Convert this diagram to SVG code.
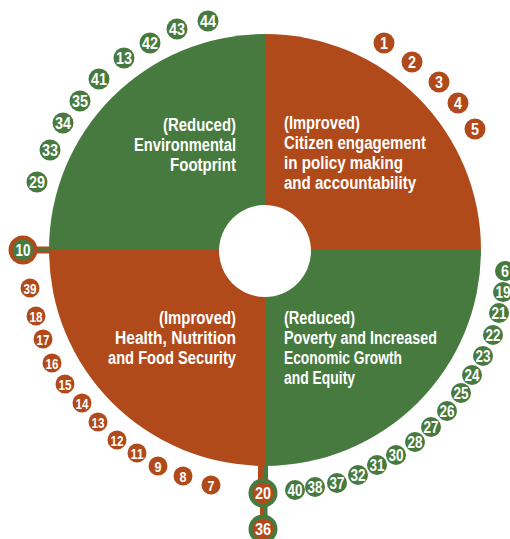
<svg xmlns="http://www.w3.org/2000/svg" width="510" height="539" viewBox="0 0 510 539">
<style>
.g{fill:#477a3e}
.o{fill:#b14a1b}
.lbl{font-family:"Liberation Sans",Arial,sans-serif;font-weight:bold;font-size:18px;fill:#fff}
.e{text-anchor:end}
.n{font-family:"Liberation Sans",Arial,sans-serif;font-weight:bold;font-size:17px;fill:#fff;text-anchor:middle}
.ns{font-size:15px}
</style>
<g id="connectors">
<line x1="36" y1="250" x2="55" y2="250" stroke="#b14a1b" stroke-width="7"/>
<line x1="36" y1="250" x2="55" y2="250" stroke="#477a3e" stroke-width="3"/>
<rect x="258" y="455" width="5" height="30" class="o"/>
<rect x="263" y="455" width="5" height="30" class="g"/>
<rect x="260" y="500" width="4" height="20" class="o"/>
<rect x="264" y="500" width="3.5" height="20" class="g"/>
</g>
<g id="q-env">
<path class="g" d="M265,250 L49,250 A216,216 0 0 1 265,34 Z"/>
<text class="lbl e" x="236" y="131" textLength="73" lengthAdjust="spacingAndGlyphs">(Reduced)</text>
<text class="lbl e" x="236" y="151" textLength="102" lengthAdjust="spacingAndGlyphs">Environmental</text>
<text class="lbl e" x="236" y="171" textLength="66" lengthAdjust="spacingAndGlyphs">Footprint</text>
</g>
<g id="q-citizen">
<path class="o" d="M265,250 L265,34 A216,216 0 0 1 481,250 Z"/>
<text class="lbl" x="284" y="129" textLength="76" lengthAdjust="spacingAndGlyphs">(Improved)</text>
<text class="lbl" x="284" y="149" textLength="142" lengthAdjust="spacingAndGlyphs">Citizen engagement</text>
<text class="lbl" x="284" y="169" textLength="119" lengthAdjust="spacingAndGlyphs">in policy making</text>
<text class="lbl" x="284" y="189" textLength="132" lengthAdjust="spacingAndGlyphs">and accountability</text>
</g>
<g id="q-poverty">
<path class="g" d="M265,250 L481,250 A216,216 0 0 1 265,466 Z"/>
<text class="lbl" x="284" y="324" textLength="71" lengthAdjust="spacingAndGlyphs">(Reduced)</text>
<text class="lbl" x="284" y="344" textLength="153" lengthAdjust="spacingAndGlyphs">Poverty and Increased</text>
<text class="lbl" x="284" y="364" textLength="118" lengthAdjust="spacingAndGlyphs">Economic Growth</text>
<text class="lbl" x="284" y="384" textLength="71" lengthAdjust="spacingAndGlyphs">and Equity</text>
</g>
<g id="q-health">
<path class="o" d="M265,250 L265,466 A216,216 0 0 1 49,250 Z"/>
<text class="lbl e" x="236" y="324" textLength="77" lengthAdjust="spacingAndGlyphs">(Improved)</text>
<text class="lbl e" x="236" y="344" textLength="121" lengthAdjust="spacingAndGlyphs">Health, Nutrition</text>
<text class="lbl e" x="236" y="364" textLength="128" lengthAdjust="spacingAndGlyphs">and Food Security</text>
</g>
<g id="hub"><circle cx="265" cy="251" r="46" fill="#fff"/></g>
<g id="badges-green-tl">
<circle class="g" cx="208" cy="21" r="10.5"/><text class="n" x="208" y="27" textLength="16" lengthAdjust="spacingAndGlyphs">44</text>
<circle class="g" cx="177" cy="29" r="10.5"/><text class="n" x="177" y="35" textLength="16" lengthAdjust="spacingAndGlyphs">43</text>
<circle class="g" cx="150" cy="43" r="10.5"/><text class="n" x="150" y="49" textLength="16" lengthAdjust="spacingAndGlyphs">42</text>
<circle class="g" cx="124" cy="58" r="10.5"/><text class="n" x="124" y="64" textLength="16" lengthAdjust="spacingAndGlyphs">13</text>
<circle class="g" cx="99" cy="79" r="10.5"/><text class="n" x="99" y="85" textLength="16" lengthAdjust="spacingAndGlyphs">41</text>
<circle class="g" cx="80" cy="101" r="10.5"/><text class="n" x="80" y="107" textLength="16" lengthAdjust="spacingAndGlyphs">35</text>
<circle class="g" cx="63" cy="123" r="10.5"/><text class="n" x="63" y="129" textLength="16" lengthAdjust="spacingAndGlyphs">34</text>
<circle class="g" cx="50" cy="150" r="10.5"/><text class="n" x="50" y="156" textLength="16" lengthAdjust="spacingAndGlyphs">33</text>
<circle class="g" cx="37" cy="182" r="10.5"/><text class="n" x="37" y="188" textLength="16" lengthAdjust="spacingAndGlyphs">29</text>
</g>
<g id="badges-orange-tr">
<circle class="o" cx="384" cy="43" r="10.5"/><text class="n" x="384" y="49" textLength="8" lengthAdjust="spacingAndGlyphs">1</text>
<circle class="o" cx="412" cy="62" r="10.5"/><text class="n" x="412" y="68" textLength="8" lengthAdjust="spacingAndGlyphs">2</text>
<circle class="o" cx="439" cy="82" r="10.5"/><text class="n" x="439" y="88" textLength="8" lengthAdjust="spacingAndGlyphs">3</text>
<circle class="o" cx="458" cy="103" r="10.5"/><text class="n" x="458" y="109" textLength="8" lengthAdjust="spacingAndGlyphs">4</text>
<circle class="o" cx="475" cy="129" r="10.5"/><text class="n" x="475" y="135" textLength="8" lengthAdjust="spacingAndGlyphs">5</text>
</g>
<g id="badges-green-br">
<circle class="g" cx="505" cy="271" r="10"/><text class="n" x="505" y="277" textLength="8" lengthAdjust="spacingAndGlyphs">6</text>
<circle class="g" cx="503" cy="292" r="10"/><text class="n" x="503" y="298" textLength="15" lengthAdjust="spacingAndGlyphs">19</text>
<circle class="g" cx="499" cy="313" r="10"/><text class="n" x="499" y="319" textLength="15" lengthAdjust="spacingAndGlyphs">21</text>
<circle class="g" cx="493" cy="335" r="10"/><text class="n" x="493" y="341" textLength="15" lengthAdjust="spacingAndGlyphs">22</text>
<circle class="g" cx="483" cy="356" r="10"/><text class="n" x="483" y="362" textLength="15" lengthAdjust="spacingAndGlyphs">23</text>
<circle class="g" cx="472" cy="375" r="10"/><text class="n" x="472" y="381" textLength="15" lengthAdjust="spacingAndGlyphs">24</text>
<circle class="g" cx="461" cy="393" r="10"/><text class="n" x="461" y="399" textLength="15" lengthAdjust="spacingAndGlyphs">25</text>
<circle class="g" cx="447" cy="411" r="10"/><text class="n" x="447" y="417" textLength="15" lengthAdjust="spacingAndGlyphs">26</text>
<circle class="g" cx="431" cy="427" r="10"/><text class="n" x="431" y="433" textLength="15" lengthAdjust="spacingAndGlyphs">27</text>
<circle class="g" cx="415" cy="442" r="10"/><text class="n" x="415" y="448" textLength="15" lengthAdjust="spacingAndGlyphs">28</text>
<circle class="g" cx="396" cy="455" r="10"/><text class="n" x="396" y="461" textLength="15" lengthAdjust="spacingAndGlyphs">30</text>
<circle class="g" cx="377" cy="465" r="10"/><text class="n" x="377" y="471" textLength="15" lengthAdjust="spacingAndGlyphs">31</text>
<circle class="g" cx="358" cy="475" r="10"/><text class="n" x="358" y="481" textLength="15" lengthAdjust="spacingAndGlyphs">32</text>
<circle class="g" cx="337" cy="483" r="10"/><text class="n" x="337" y="489" textLength="15" lengthAdjust="spacingAndGlyphs">37</text>
<circle class="g" cx="315" cy="487" r="10"/><text class="n" x="315" y="493" textLength="15" lengthAdjust="spacingAndGlyphs">38</text>
<circle class="g" cx="295" cy="490" r="10"/><text class="n" x="295" y="496" textLength="15" lengthAdjust="spacingAndGlyphs">40</text>
</g>
<g id="badges-orange-bl">
<circle class="o" cx="30" cy="288" r="9.5"/><text class="n ns" x="30" y="293.5" textLength="13" lengthAdjust="spacingAndGlyphs">39</text>
<circle class="o" cx="36" cy="316" r="9.5"/><text class="n ns" x="36" y="321.5" textLength="13" lengthAdjust="spacingAndGlyphs">18</text>
<circle class="o" cx="43" cy="339" r="9.5"/><text class="n ns" x="43" y="344.5" textLength="13" lengthAdjust="spacingAndGlyphs">17</text>
<circle class="o" cx="52" cy="363" r="9.5"/><text class="n ns" x="52" y="368.5" textLength="13" lengthAdjust="spacingAndGlyphs">16</text>
<circle class="o" cx="65" cy="384" r="9.5"/><text class="n ns" x="65" y="389.5" textLength="13" lengthAdjust="spacingAndGlyphs">15</text>
<circle class="o" cx="82" cy="403" r="9.5"/><text class="n ns" x="82" y="408.5" textLength="13" lengthAdjust="spacingAndGlyphs">14</text>
<circle class="o" cx="98" cy="422" r="9.5"/><text class="n ns" x="98" y="427.5" textLength="13" lengthAdjust="spacingAndGlyphs">13</text>
<circle class="o" cx="117" cy="440" r="9.5"/><text class="n ns" x="117" y="445.5" textLength="13" lengthAdjust="spacingAndGlyphs">12</text>
<circle class="o" cx="137" cy="453" r="9.5"/><text class="n ns" x="137" y="458.5" textLength="13" lengthAdjust="spacingAndGlyphs">11</text>
<circle class="o" cx="158" cy="466" r="9.5"/><text class="n ns" x="158" y="471.5" textLength="7" lengthAdjust="spacingAndGlyphs">9</text>
<circle class="o" cx="183" cy="476" r="9.5"/><text class="n ns" x="183" y="481.5" textLength="7" lengthAdjust="spacingAndGlyphs">8</text>
<circle class="o" cx="211" cy="485" r="9.5"/><text class="n ns" x="211" y="490.5" textLength="7" lengthAdjust="spacingAndGlyphs">7</text>
</g>
<g id="badge-10">
<circle class="o" cx="23" cy="250" r="14.5"/><circle class="g" cx="23" cy="250" r="10.5"/><text class="n" x="23" y="256" textLength="15" lengthAdjust="spacingAndGlyphs">10</text>
</g>
<g id="badge-20">
<circle class="g" cx="263" cy="493" r="14.5"/><circle class="o" cx="263" cy="493" r="10.5"/><text class="n" x="263" y="499" textLength="16" lengthAdjust="spacingAndGlyphs">20</text>
</g>
<g id="badge-36">
<circle class="g" cx="263" cy="529" r="14.5"/><circle class="o" cx="263" cy="529" r="10.5"/><text class="n" x="263" y="535" textLength="16" lengthAdjust="spacingAndGlyphs">36</text>
</g>
</svg>
